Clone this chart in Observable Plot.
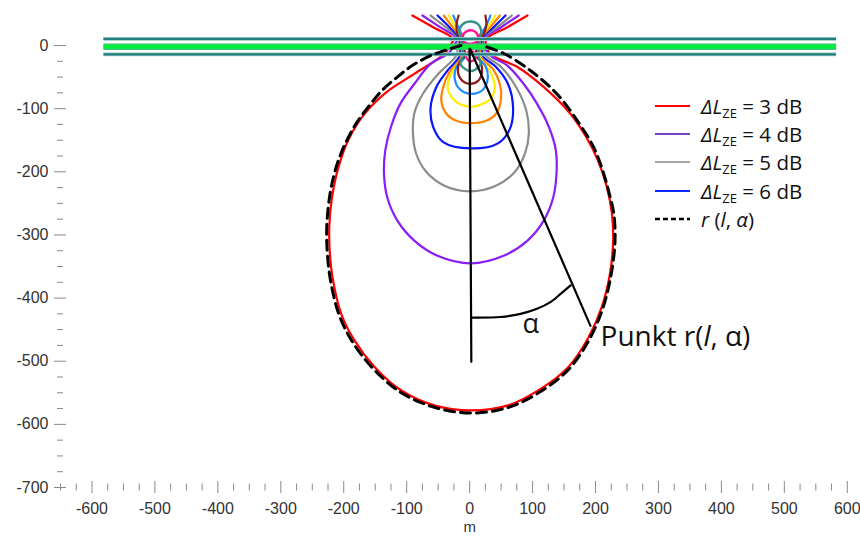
<!DOCTYPE html>
<html><head><meta charset="utf-8">
<script src="https://cdn.jsdelivr.net/npm/d3@7"></script>
<script src="https://cdn.jsdelivr.net/npm/@observablehq/plot@0.6"></script>
<style>
body{margin:0;background:#fff;}
#wrap{position:relative;width:860px;height:536px;overflow:hidden;}
.legend{position:absolute;left:655px;top:0;font-family:"Open Sans",sans-serif;font-size:20.5px;color:#111;}
.row{position:absolute;left:0;height:28px;display:flex;align-items:center;white-space:nowrap;}
.row svg{margin-right:10px;}
.row sub{font-size:13px;vertical-align:-4px;line-height:0;}
</style></head><body><div id="wrap"></div><script>
// ---- axis ticks ----
const xDomain = [-650, 621];
const yDomain = [-700, 71.3];
const xMajor = [-600,-500,-400,-300,-200,-100,0,100,200,300,400,500,600];
const yMajor = [-700,-600,-500,-400,-300,-200,-100,0];
const xMinor = d3.range(-650, 601, 25).filter(v => v % 100 !== 0);
const yMinor = d3.range(-700, 1, 25).filter(v => v % 100 !== 0);

// ---- contour lines ----
const c3dB = [[-91,47.5],[-58,29],[-26,10],[-31,0],[-40,-13],[-88,-45],[-131,-73],[-166,-107],[-192,-148],[-209,-195],[-219,-243],[-223,-288],[-222,-330],[-217,-372],[-204,-425],[-183,-467],[-151,-509],[-109,-546],[-56,-570],[2,-578],[61,-570],[114,-543],[157,-509],[189,-462],[210,-414],[223,-361],[228,-309],[226,-266],[218,-224],[203,-180],[184,-143],[160,-108],[118,-66],[76,-34],[33,-14],[27,0],[26,10],[60,29],[92,47.5]];
const c4dB = [[-75,47.5],[-47,29],[-20,10.6],[-26,-2],[-33,-12],[-62,-29],[-88,-61],[-110,-92],[-125,-129],[-134,-166],[-136,-203],[-131,-240],[-115,-277],[-88,-309],[-51,-333],[2,-345],[54,-333],[92,-309],[118,-277],[133,-240],[138,-203],[137,-166],[126,-129],[107,-92],[86,-61],[60,-32],[33,-16],[24,-3],[22,10.6],[50,29],[78,47.5]];
const c5dB = [[-62,47.5],[-38,29],[-18,10.6],[-19,-3],[-21,-16],[-50,-45],[-74,-76],[-88,-108],[-90,-140],[-85,-171],[-69,-200],[-40,-222],[0,-231],[40,-223],[72,-200],[88,-171],[94,-140],[90,-103],[74,-66],[50,-34],[26,-16],[22,-3],[20,10.6],[44,29],[67,47.5]];
const c6dB = [[-51,47.5],[-32,29],[-16,10.6],[-15,-3],[-16,-17],[-37,-42],[-53,-66],[-62,-98],[-58,-129],[-42,-153],[2,-163],[45,-155],[64,-132],[69,-98],[61,-61],[42,-34],[21,-17],[19,-3],[19,10.6],[38,29],[57,47.5]];
const c7dB = [[-41,47.5],[-27,29],[-14,10.6],[-13,-3],[-13,-18.5],[-32,-42],[-42,-66],[-45,-87],[-37,-108],[-19,-120],[2,-123],[24,-120],[42,-108],[50,-84],[48,-61],[37,-37],[18,-18.5],[17,-3],[17,10.6],[33,29],[48,47.5]];
const c8dB = [[-33,47.5],[-22,29],[-12,10.6],[-11,-3],[-11,-18.5],[-27,-40],[-35,-66],[-27,-84],[-15,-93],[2,-97],[19,-93],[32,-86],[40,-66],[33,-42],[16,-18.5],[15,-3],[15,10.6],[29,29],[41,47.5]];
const c9dB = [[-26,47.5],[-18,29],[-10,10.6],[-9,-3],[-8,-18.5],[-21,-34],[-24,-50],[-16,-69],[2,-76.5],[21,-70],[29,-50],[25,-32],[13,-18.5],[12,-3],[13,10.6],[25,29],[33,47.5]];
const c10dB = [[-17.5,47.5],[-21,31.7],[-18.6,15.8],[-12,5.2],[-9,-5],[-8,-16],[-16,-26],[-18.6,-42],[-11,-56.5],[0,-60.6],[13,-56.5],[19.6,-42],[17.4,-26],[10.5,-16],[11,-5],[13,5.2],[21,15.8],[26.5,31.7],[25,47.5]];
const c11dB = [[-13.4,5.2],[-16,26.4],[-8,35.9],[2.5,38],[13,34.3],[18.5,23.7],[15.8,6.3],[15,-5],[14,-16],[17.4,-29],[8.9,-38.5],[1.4,-40.6],[-5.4,-38.5],[-14.5,-29],[-10.7,-16],[-12,-5]];
const c12dBUp = [[-8,5],[-10.7,15.8],[-5.4,22],[5.3,23.7],[12,18.5],[13,7.9],[3,3]];
const c12dBDown = [[-2.7,-10.6],[-5.4,-17.4],[-1.7,-23.7],[3.6,-24.8],[9.4,-21],[8.9,-13],[3,-9]];
const rCurve = [[-14,0],[-40,-8],[-62,-16],[-90,-31],[-115,-50],[-140,-72],[-160,-96],[-178,-120],[-193,-146],[-206,-175],[-216,-207],[-223,-243],[-227,-288],[-226,-330],[-221,-372],[-208,-425],[-187,-468],[-154,-511],[-110,-549],[-56,-573],[2,-582],[62,-573],[116,-546],[159,-511],[191,-464],[212,-415],[225,-362],[231,-309],[229,-266],[222,-235],[213,-203],[197,-161],[171,-119],[139,-77],[97,-40],[55,-13],[23,-1]];

// ---- road ----
const roadX = [-581, 583];
const roadEdgesY = [10.5, -14];
const roadCenterY = [-2];

// ---- annotation ----
const verticalLine = [[0,-5],[2.7,-501]];
const pointLine = [[1,-6],[192,-444]];
const alphaArc = [[2.5,-431],[49,-430],[81,-425],[107,-417],[129,-406],[145,-393],[160.5,-380]];
const alphaLabel = [{x:97, y:-442, t:"α"}];
const pointLabel = [{x:208, y:-461, t:"Punkt r(l, α)"}];
const xTitle = [{x:0, t:"m"}];

const openCurves = [
  [c3dB,"#ff0000"],[c4dB,"#8a1cf5"],[c5dB,"#8c8c8c"],[c6dB,"#0a14ff"],
  [c7dB,"#ff8200"],[c8dB,"#ffee00"],[c9dB,"#1e8cff"],[c10dB,"#8b1a1a"]
];
const closedCurves = [[c11dB,"#3a8f8f"],[c12dBUp,"#ff1493"],[c12dBDown,"#ff1493"]];

const X = d => d[0], Y = d => d[1];
const tickColor = "#8a8a8a";
const axisFont = "'Liberation Sans', Arial, sans-serif";
const annFont = "'Open Sans', sans-serif";

const chart = Plot.plot({
  width: 860, height: 536,
  marginLeft: 60, marginRight: 0, marginTop: 0, marginBottom: 49,
  x: {domain: xDomain},
  y: {domain: yDomain},
  marks: [
    Plot.axisY({ticks: yMinor, anchor: "left", tickSize: 6, dx: 3, fill: "none", stroke: tickColor, label: null}),
    Plot.axisY({ticks: yMajor, anchor: "left", tickSize: 12, dx: 6, fill: "none", stroke: tickColor, label: null}),
    Plot.axisY({ticks: yMajor, anchor: "left", tickSize: 0, tickPadding: 12, tickFormat: d => String(d), fontSize: 16, fontFamily: axisFont, fill: "#333", label: null}),
    Plot.axisX({ticks: xMinor, anchor: "bottom", tickSize: 7, dy: -3.5, fill: "none", stroke: tickColor, label: null}),
    Plot.axisX({ticks: xMajor, anchor: "bottom", tickSize: 12, dy: -6, fill: "none", stroke: tickColor, label: null}),
    Plot.axisX({ticks: xMajor, anchor: "bottom", tickSize: 0, tickPadding: 15, tickFormat: d => String(d), fontSize: 16, fontFamily: axisFont, fill: "#333", label: null}),
    Plot.text(xTitle, {x: "x", text: "t", frameAnchor: "bottom", dy: 44, fontSize: 15, fontFamily: axisFont, fill: "#333"}),
    ...openCurves.map(([pts, c]) => Plot.line(pts, {x: X, y: Y, stroke: c, strokeWidth: 2.2, curve: "catmull-rom"})),
    ...closedCurves.map(([pts, c]) => Plot.line(pts, {x: X, y: Y, stroke: c, strokeWidth: 2.4, curve: "catmull-rom-closed"})),
    // road
    Plot.ruleY(roadEdgesY, {y: d => d, x1: roadX[0], x2: roadX[1], stroke: "#a9d3d3", strokeWidth: 4}),
    Plot.ruleY(roadEdgesY, {y: d => d, x1: roadX[0], x2: roadX[1], stroke: "#217e7e", strokeWidth: 2.2}),
    Plot.ruleY(roadCenterY, {y: d => d, x1: roadX[0], x2: roadX[1], stroke: "#3cc27a", strokeWidth: 6.5}),
    Plot.ruleY(roadCenterY, {y: d => d, x1: roadX[0], x2: roadX[1], stroke: "#00f03c", strokeWidth: 4}),
    // r(l, alpha)
    Plot.line(rCurve, {x: X, y: Y, stroke: "#000", strokeWidth: 3, strokeDasharray: "10,6", curve: "catmull-rom"}),
    // annotations
    Plot.line(verticalLine, {x: X, y: Y, stroke: "#000", strokeWidth: 2.2}),
    Plot.line(pointLine, {x: X, y: Y, stroke: "#000", strokeWidth: 2.2}),
    Plot.line(alphaArc, {x: X, y: Y, stroke: "#000", strokeWidth: 2.2, curve: "catmull-rom"}),
    Plot.text(alphaLabel, {x: "x", y: "y", text: "t", fontSize: 27, fontFamily: annFont, fill: "#111"}),
    Plot.text(pointLabel, {x: "x", y: "y", text: "t", fontSize: 28, fontFamily: annFont, fill: "#111", textAnchor: "start"})
  ]
});

// italic "l" in the point label
chart.querySelectorAll("text").forEach(t => {
  if (t.textContent === "Punkt r(l, α)") {
    t.textContent = "";
    const parts = [["Punkt r(", null], ["l", "italic"], [", α)", null]];
    for (const [s, st] of parts) {
      const ts = document.createElementNS("http://www.w3.org/2000/svg", "tspan");
      ts.textContent = s;
      if (st) ts.setAttribute("font-style", st);
      t.appendChild(ts);
    }
  }
});

const wrap = document.getElementById("wrap");
wrap.appendChild(chart);

// ---- legend ----
const legendItems = [
  {color: "#ff0000", label: "3", dash: null},
  {color: "#7b3fc0", label: "4", dash: null},
  {color: "#a6a6a6", label: "5", dash: null},
  {color: "#0a28ff", label: "6", dash: null},
  {color: "#000000", label: null, dash: "5,3"}
];
const legendRowY = [106, 134, 162, 190.5, 218.5];
const legend = document.createElement("div");
legend.className = "legend";
legendItems.forEach((it, i) => {
  const row = document.createElement("div");
  row.className = "row";
  row.style.top = (legendRowY[i] - 14) + "px";
  const sw = `<svg width="36" height="10"><line x1="0" y1="5" x2="35" y2="5" stroke="${it.color}" stroke-width="${it.dash ? 2.4 : 2.2}" ${it.dash ? `stroke-dasharray="${it.dash}"` : ""}/></svg>`;
  const txt = it.label ? `<span><i>ΔL</i><sub>ZE</sub> = ${it.label} dB</span>` : `<span><i>r</i> (<i>l</i>, <i>α</i>)</span>`;
  row.innerHTML = sw + txt;
  legend.appendChild(row);
});
wrap.appendChild(legend);
</script></body></html>
